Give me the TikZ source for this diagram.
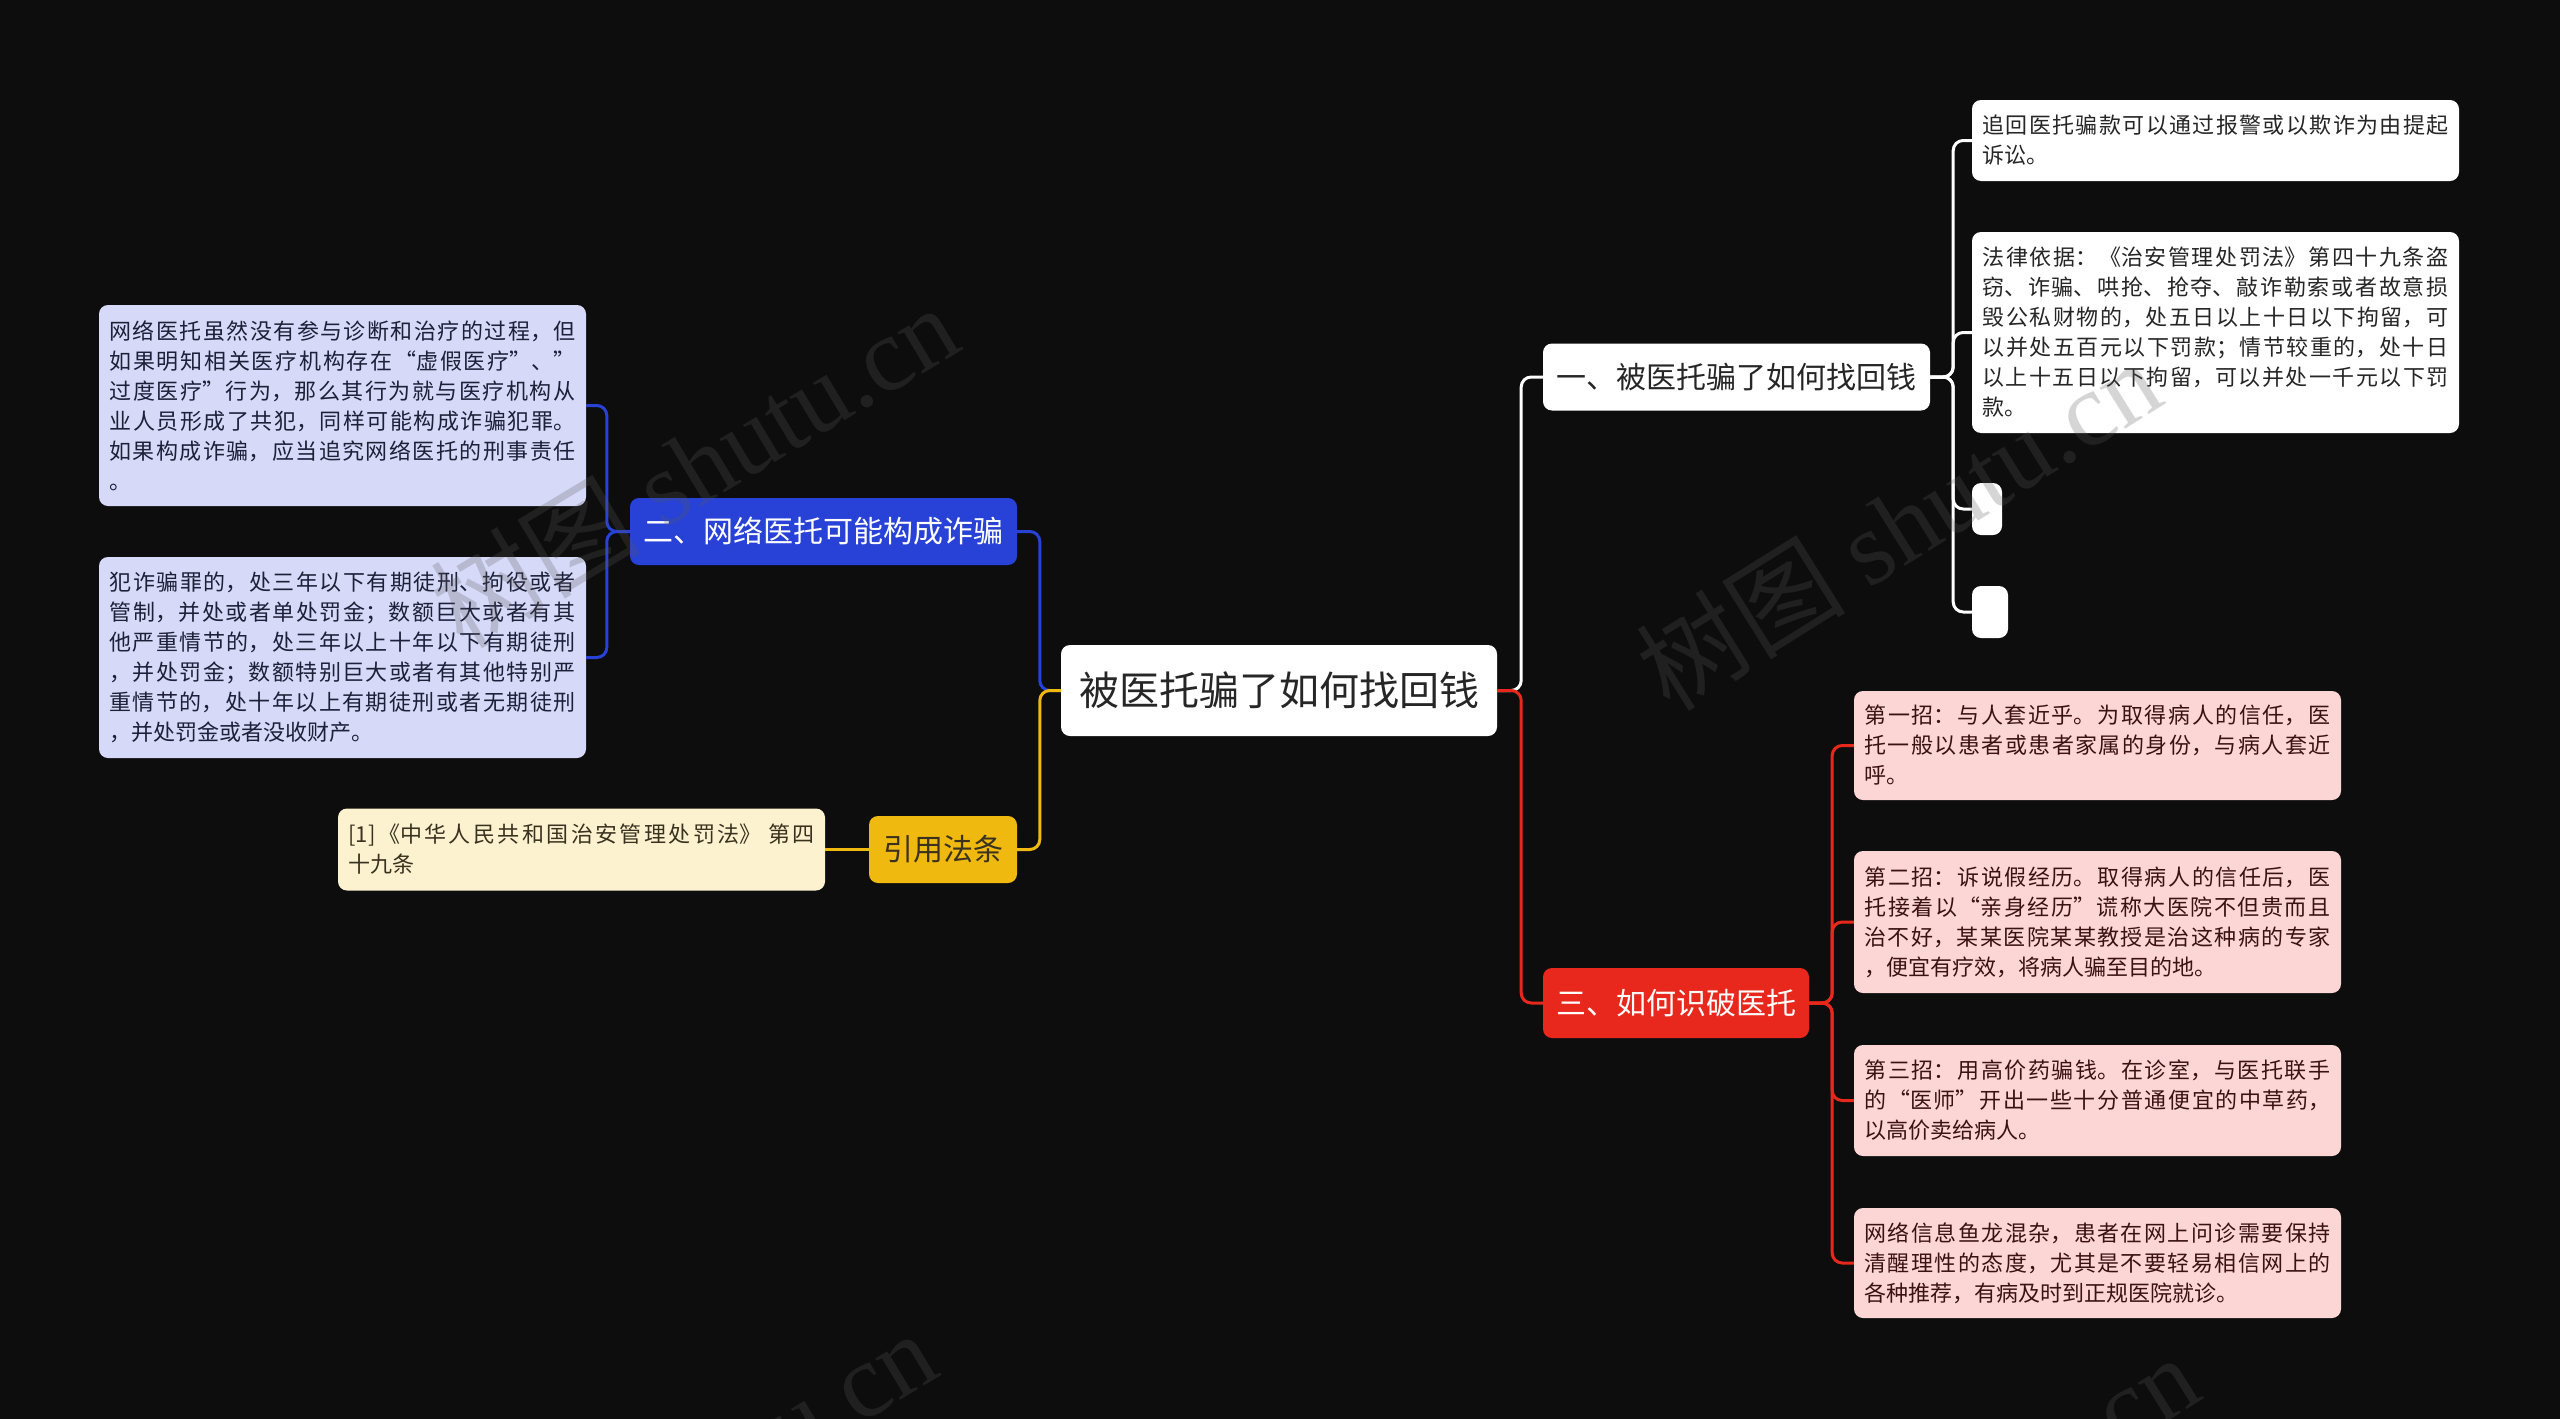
\documentclass[tikz,border=0pt]{standalone}
\usepackage{fontspec}
\setmainfont{Noto Sans CJK SC}
\newfontfamily\wmlatin{Liberation Serif}
\XeTeXlinebreaklocale "zh"
\XeTeXlinebreakskip=0pt plus 4pt
\tolerance=10000
\hbadness=10000
\definecolor{bg}{HTML}{0D0D0D}
\definecolor{blueC}{HTML}{2841D6}
\definecolor{blueL}{HTML}{D6DAF8}
\definecolor{blueT}{HTML}{1E2038}
\definecolor{redC}{HTML}{E8281C}
\definecolor{redL}{HTML}{FCD6D4}
\definecolor{redT}{HTML}{3B1212}
\definecolor{yelC}{HTML}{F0B90F}
\definecolor{yelL}{HTML}{FDF2D0}
\definecolor{yelT}{HTML}{3A3220}
\definecolor{darkT}{HTML}{262626}
\definecolor{wmgray}{HTML}{5A5A5A}
\tikzset{
  box/.style={rounded corners=9pt, inner sep=0pt, align=center},
  mainbox/.style={box, fill=white, text=darkT, minimum width=436pt, minimum height=91pt, font=\fontsize{40}{46}\selectfont},
  topic/.style={box, minimum height=67pt, font=\fontsize{30}{36}\selectfont},
  leaf/.style={box, minimum width=487pt, text width=466pt, align=justify, font=\fontsize{22}{30}\selectfont},
  conn/.style={line width=3pt, rounded corners=10pt},
  wm/.style={font=\fontsize{105}{110}\selectfont, text=wmgray, text opacity=0.25, inner sep=0pt},
}
\begin{document}
\begin{tikzpicture}[x=1pt,y=-1pt]
\useasboundingbox (0,0) rectangle (2560,1419);
\fill[bg] (0,0) rectangle (2560,1419);
\clip (0,0) rectangle (2560,1419);

% root and main topics
\node[mainbox] (root) at (1279,690.5) {被医托骗了如何找回钱};
\node[topic, fill=white, text=darkT, minimum width=387pt] (n1) at (1736.5,377) {一、被医托骗了如何找回钱};
\node[topic, fill=blueC, text=white, minimum width=387pt] (n2) at (823.5,531.5) {二、网络医托可能构成诈骗};
\node[topic, fill=redC, text=white, minimum width=266pt, minimum height=70pt] (n3) at (1676,1003) {三、如何识破医托};
\node[topic, fill=yelC, text=yelT, minimum width=148pt] (nc) at (943,849.5) {引用法条};

% blue leaves
\node[leaf, fill=blueL, text=blueT, minimum height=201pt] (b1) at (342.5,405.5) {网络医托虽然没有参与诊断和治疗的过程，但\linebreak 如果明知相关医疗机构存在“虚假医疗”、”\linebreak 过度医疗”行为，那么其行为就与医疗机构从\linebreak 业人员形成了共犯，同样可能构成诈骗犯罪。\linebreak 如果构成诈骗，应当追究网络医托的刑事责任\linebreak 。};
\node[leaf, fill=blueL, text=blueT, minimum height=201pt] (b2) at (342.5,657.5) {犯诈骗罪的，处三年以下有期徒刑、拘役或者\linebreak 管制，并处或者单处罚金；数额巨大或者有其\linebreak 他严重情节的，处三年以上十年以下有期徒刑\linebreak ，并处罚金；数额特别巨大或者有其他特别严\linebreak 重情节的，处十年以上有期徒刑或者无期徒刑\linebreak ，并处罚金或者没收财产。};

% citation leaf
\node[leaf, fill=yelL, text=yelT, minimum height=82pt] (cit) at (581.5,849.5) {[1]《中华人民共和国治安管理处罚法》 第四\linebreak 十九条};

% white leaves
\node[leaf, fill=white, text=darkT, minimum height=81pt] (w1) at (2215.5,140.5) {追回医托骗款可以通过报警或以欺诈为由提起\linebreak 诉讼。};
\node[leaf, fill=white, text=darkT, minimum height=201pt] (w2) at (2215.5,332.5) {法律依据：《治安管理处罚法》第四十九条盗\linebreak 窃、诈骗、哄抢、抢夺、敲诈勒索或者故意损\linebreak 毁公私财物的，处五日以上十日以下拘留，可\linebreak 以并处五百元以下罚款；情节较重的，处十日\linebreak 以上十五日以下拘留，可以并处一千元以下罚\linebreak 款。};
\node[box, fill=white, minimum width=30pt, minimum height=52pt] (s1) at (1987,509) {};
\node[box, fill=white, minimum width=36pt, minimum height=52pt] (s2) at (1990,612) {};

% red leaves
\node[leaf, fill=redL, text=redT, minimum height=109pt] (r1) at (2097.5,745.5) {第一招：与人套近乎。为取得病人的信任，医\linebreak 托一般以患者或患者家属的身份，与病人套近\linebreak 呼。};
\node[leaf, fill=redL, text=redT, minimum height=142pt] (r2) at (2097.5,922) {第二招：诉说假经历。取得病人的信任后，医\linebreak 托接着以“亲身经历”谎称大医院不但贵而且\linebreak 治不好，某某医院某某教授是治这种病的专家\linebreak ，便宜有疗效，将病人骗至目的地。};
\node[leaf, fill=redL, text=redT, minimum height=111pt] (r3) at (2097.5,1100.5) {第三招：用高价药骗钱。在诊室，与医托联手\linebreak 的“医师”开出一些十分普通便宜的中草药，\linebreak 以高价卖给病人。};
\node[leaf, fill=redL, text=redT, minimum height=110pt] (r4) at (2097.5,1263) {网络信息鱼龙混杂，患者在网上问诊需要保持\linebreak 清醒理性的态度，尤其是不要轻易相信网上的\linebreak 各种推荐，有病及时到正规医院就诊。};

% connectors: root to topics
\draw[conn, white] (root.east) -- ++(24,0) |- (n1.west);
\draw[conn, redC] (root.east) -- ++(24,0) |- (n3.west);
\draw[conn, blueC] (root.west) -- ++(-21,0) |- (n2.east);
\draw[conn, yelC] (root.west) -- ++(-21,0) |- (nc.east);

% topic 1 leaves
\foreach \t in {w1,w2,s1,s2}
  \draw[conn, white] (n1.east) -- ++(23,0) |- (\t.west);
% topic 2 leaves
\foreach \t in {b1,b2}
  \draw[conn, blueC] (n2.west) -- ++(-23,0) |- (\t.east);
% topic 3 leaves
\foreach \t in {r1,r2,r3,r4}
  \draw[conn, redC] (n3.east) -- ++(23,0) |- (\t.west);
% citation
\draw[conn, yelC] (nc.west) -- (cit.east);

% watermarks
\node[wm, rotate=31] (wm1) at (694,465) {树图 {\wmlatin shutu.cn}};
\node[wm, rotate=32] (wm2) at (1898,524) {树图 {\wmlatin shutu.cn}};
\node[wm, rotate=31] (wm3) at (672,1491) {树图 {\wmlatin shutu.cn}};
\node[wm, rotate=32] (wm4) at (1936,1519) {树图 {\wmlatin shutu.cn}};
\end{tikzpicture}
\end{document}
